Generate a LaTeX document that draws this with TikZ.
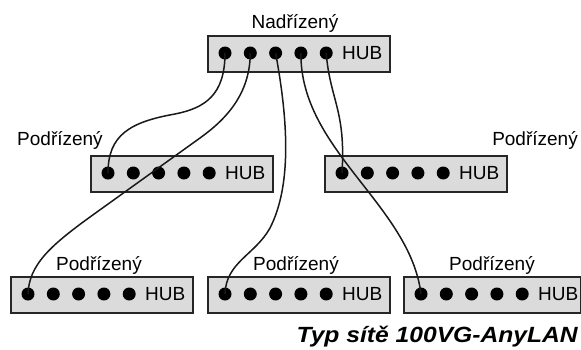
\documentclass[tikz,border=0pt]{standalone}
\usepackage{fontspec}
\setmainfont{Liberation Sans}
\begin{document}
\begin{tikzpicture}[x=1pt,y=-1pt]
\tikzset{
  hubframe/.style={draw=black!85, fill=gray!28, line width=1.6pt,
    minimum height=36pt, anchor=north west, inner sep=0pt},
  port/.style={circle, fill=black, inner sep=0pt, minimum size=13pt},
  cable/.style={line width=1.5pt, black!90},
  hublabel/.style={font=\fontsize{19}{19}\selectfont, inner sep=0pt},
  titletext/.style={font=\fontsize{22}{22}\selectfont\bfseries\itshape, inner sep=0pt},
}
% a hub: frame, five ports and the HUB caption
\newcommand\hubrow[4]{%
  \node[hubframe, minimum width=#4pt] (#1) at (#2,#3) {};
  \foreach \k in {1,...,5} {
    \node[port] (#1\k) at ({#2+18+25.3*(\k-1)},{#3+18}) {};
  }
  \node[hublabel, anchor=west] (#1txt) at ({#2+135},{#3+18}) {HUB};
}
\useasboundingbox (0,0) rectangle (581,349);

\hubrow{top}{207}{35}{182}
\hubrow{ml}{90}{155}{182}
\hubrow{mr}{324}{155}{182}
\hubrow{bl}{10}{276}{182}
\hubrow{bm}{207}{276}{182}
\hubrow{br}{403}{276}{177}

% labels
\node[hublabel, anchor=base] (lbltop) at (295,28) {Nadřízený};
\node[hublabel, anchor=base west] (lblml) at (17,145) {Podřízený};
\node[hublabel, anchor=base east] (lblmr) at (578,145) {Podřízený};
\node[hublabel, anchor=base] (lblbl) at (99,270) {Podřízený};
\node[hublabel, anchor=base] (lblbm) at (296,270) {Podřízený};
\node[hublabel, anchor=base] (lblbr) at (492,270) {Podřízený};
\node[titletext, anchor=base east, xscale=1.12] (title) at (578,342) {Typ sítě 100VG-AnyLAN};

% cables from the master hub to the slave hubs
\draw[cable] (top1.center) .. controls (225,95) and (205,108) .. (175,114)
  .. controls (130,122) and (108,135) .. (ml1.center);
\draw[cable] (top2.center) .. controls (250,95) and (225,120) .. (200,138)
  -- (90,217) .. controls (50,246) and (29,265) .. (bl1.center);
\draw[cable] (top3.center) .. controls (288,120) and (292,185) .. (270,228)
  .. controls (255,255) and (226,262) .. (bm1.center);
\draw[cable] (top4.center) .. controls (300,150) and (410,205) .. (br1.center);
\draw[cable] (top5.center) .. controls (330,100) and (346,110) .. (mr1.center);
\end{tikzpicture}
\end{document}
